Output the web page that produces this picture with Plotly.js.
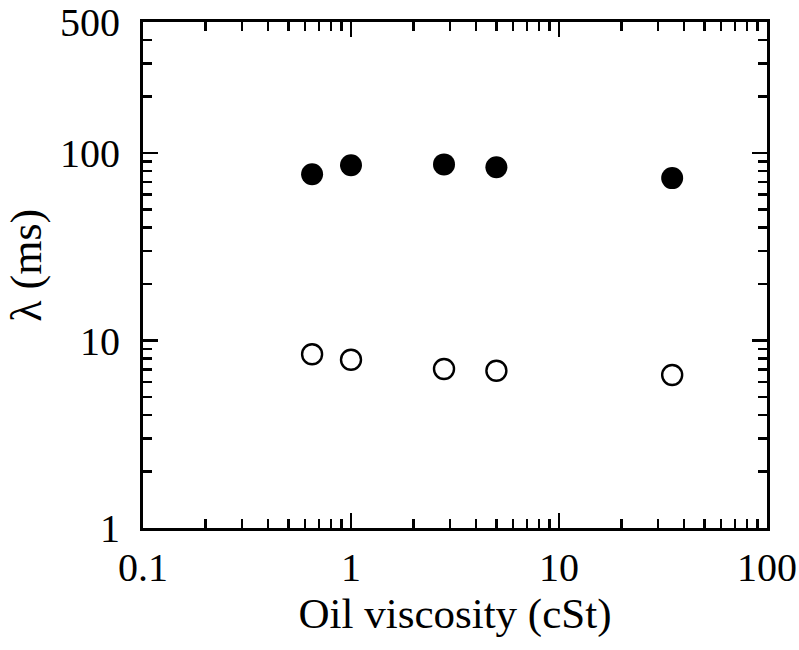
<!DOCTYPE html>
<html>
<head>
<meta charset="utf-8">
<script src="https://cdn.plot.ly/plotly-3.0.1.min.js"></script>
<style>body{margin:0;padding:0;background:#fff}</style>
</head>
<body>
<div id="chart" style="width:799px;height:650px"></div>
<script>
var viscosity = [0.65, 1.0, 2.8, 5.0, 35];
var lambdaFilled = [77, 86, 87, 84, 73.5];
var lambdaOpen = [8.45, 7.9, 7.05, 6.9, 6.55];
var xTickVals = [0.1, 1, 10, 100];
var xTickText = ['0.1', '1', '10', '100'];
var yTickVals = [1, 10, 100, 500];
var yTickText = ['1', '10', '100', '500'];
var xMinor = [0.2,0.3,0.4,0.5,0.6,0.7,0.8,0.9,2,3,4,5,6,7,8,9,20,30,40,50,60,70,80,90];
var yMinor = [2,3,4,5,6,7,8,9,20,30,40,50,60,70,80,90,200,300,400];
var xTitle = 'Oil viscosity (cSt)';
var yTitle = 'λ (ms)';

var font = {family: '"Liberation Serif", "Times New Roman", serif', color: '#000'};

var traces = [
  {x: viscosity, y: lambdaFilled, mode: 'markers', type: 'scatter',
   marker: {symbol: 'circle', size: 22, color: '#000', line: {width: 0}}},
  {x: viscosity, y: lambdaOpen, mode: 'markers', type: 'scatter',
   marker: {symbol: 'circle-open', size: 20, color: '#000', line: {width: 2.4, color: '#000'}}}
];

var axisCommon = {
  type: 'log', showgrid: false, zeroline: false,
  showline: true, linecolor: '#000', linewidth: 3, mirror: 'ticks',
  ticks: 'inside', ticklen: 15, tickwidth: 2.5, tickcolor: '#000',
  tickmode: 'array',
  tickfont: Object.assign({size: 40}, font)
};

var layout = {
  width: 799, height: 650,
  margin: {l: 143, r: 32, t: 22, b: 122},
  paper_bgcolor: '#fff', plot_bgcolor: '#fff',
  showlegend: false,
  xaxis: Object.assign({}, axisCommon, {
    range: [-1, 2],
    tickvals: xTickVals, ticktext: xTickText,
    ticklabelstandoff: 2,
    minor: {tickmode: 'array', tickvals: xMinor, ticks: 'inside', ticklen: 9, tickwidth: 2.5, tickcolor: '#000', showgrid: false},
    title: {text: xTitle, font: Object.assign({size: 43}, font), standoff: 2}
  }),
  yaxis: Object.assign({}, axisCommon, {
    range: [0, Math.log10(500)],
    tickvals: yTickVals, ticktext: yTickText,
    ticklabelstandoff: 12,
    minor: {tickmode: 'array', tickvals: yMinor, ticks: 'inside', ticklen: 9, tickwidth: 2.5, tickcolor: '#000', showgrid: false}
  }),
  annotations: [{
    text: yTitle, xref: 'paper', yref: 'paper',
    x: -0.186, y: 0.52, xanchor: 'center', yanchor: 'middle',
    textangle: -90, showarrow: false, borderpad: 0,
    font: Object.assign({size: 44}, font)
  }]
};

Plotly.newPlot('chart', traces, layout, {displayModeBar: false, staticPlot: true});
</script>
</body>
</html>
